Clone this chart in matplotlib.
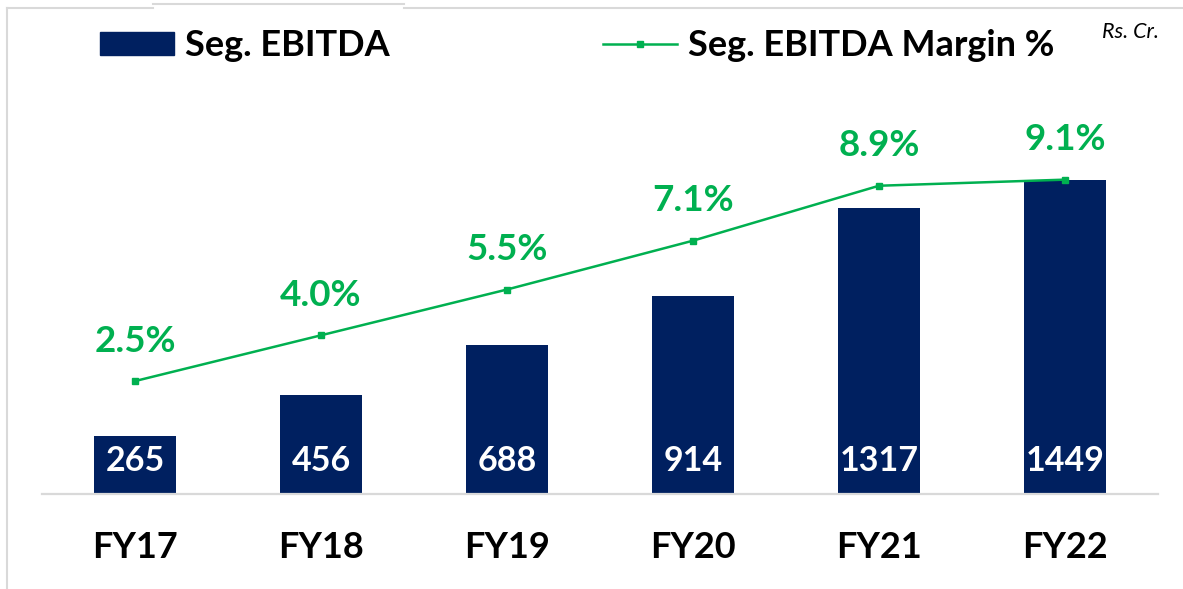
import matplotlib.pyplot as plt
from matplotlib.patches import Patch
from matplotlib.lines import Line2D

# --------- data (Rs. Cr.) ---------
years = ["FY17", "FY18", "FY19", "FY20", "FY21", "FY22"]
ebitda = [265, 456, 688, 914, 1317, 1449]
margin = [2.5, 4.0, 5.5, 7.1, 8.9, 9.1]

navy = "#002060"
green = "#00B050"
grey = "#D9D9D9"
font = "Lato"

W, H = 1183, 589
fig = plt.figure(figsize=(W / 100, H / 100), dpi=100)
ax = fig.add_axes([42 / W, (H - 494) / H, (1158 - 42) / W, (494 - 60) / H])

x = range(len(years))
ax.bar(x, ebitda, width=0.446, color=navy, zorder=2)
ax.set_xlim(-0.5, len(years) - 0.5)
ax.set_ylim(0, 2000)

for i, v in zip(x, ebitda):
    ax.text(i, 150, str(v), ha="center", va="center", color="white",
            fontsize=24.5, fontweight="bold", family=font, zorder=3)

ax2 = ax.twinx()
ax2.plot(x, margin, color=green, lw=1.8, marker="s", markersize=5, zorder=4)
ax2.set_ylim(-1.2, 13.02)
for i, m in zip(x, margin):
    ax2.annotate(f"{m:.1f}%", (i, m), xytext=(0, 40), textcoords="offset pixels",
                 ha="center", va="center", color=green, fontsize=26.5,
                 fontweight="bold", family=font)

for a in (ax, ax2):
    for s in ("top", "right", "left"):
        a.spines[s].set_visible(False)
    a.set_yticks([])
ax2.spines["bottom"].set_visible(False)
ax.spines["bottom"].set_color(grey)
ax.spines["bottom"].set_linewidth(1.6)

ax.set_xticks(list(x))
ax.set_xticklabels(years, fontsize=26, fontweight="bold", family=font)
ax.tick_params(axis="x", length=0, pad=27)

# legend
handles = [Patch(color=navy),
           Line2D([], [], color=green, lw=1.8, marker="s", markersize=5)]
fig.legend(handles, ["Seg. EBITDA", "Seg. EBITDA Margin %"], ncol=2,
           loc="center left", bbox_to_anchor=(100 / W, 1 - 46 / H),
           frameon=False, borderpad=0, borderaxespad=0, handlelength=2.05,
           handleheight=0.6, handletextpad=0.3, columnspacing=5.9,
           prop={"family": font, "weight": "bold", "size": 26})

fig.text(1102 / W, 1 - 32 / H, "Rs. Cr.", ha="left", va="center",
         fontsize=15.5, style="italic", family=font)

# light grey frame edges from the source slide
fig.add_artist(Line2D([7 / W, 7 / W], [0, 1 - 8 / H], color=grey, lw=1.5))
fig.add_artist(Line2D([7 / W, 153 / W], [1 - 8 / H, 1 - 8 / H], color=grey, lw=1.5))
fig.add_artist(Line2D([153 / W, 404 / W], [1 - 4 / H, 1 - 4 / H], color=grey, lw=1.5))
fig.add_artist(Line2D([404 / W, 1], [1 - 8 / H, 1 - 8 / H], color=grey, lw=1.5))

fig.savefig("out.png", dpi=100)
